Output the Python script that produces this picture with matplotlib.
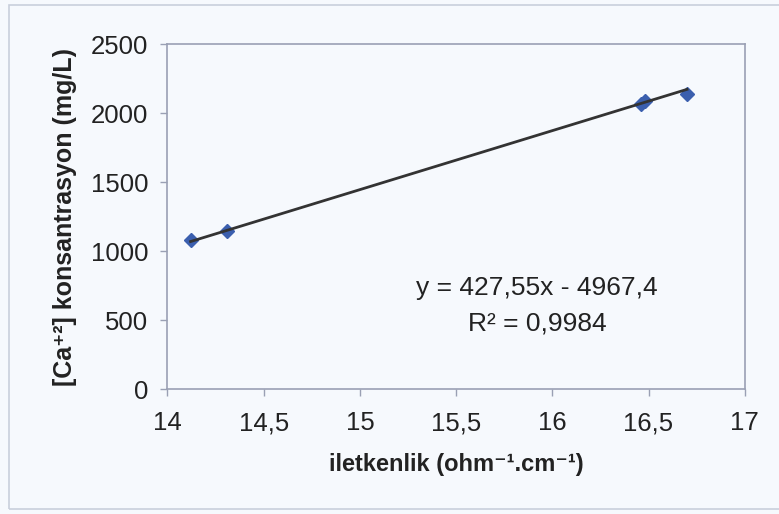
import matplotlib
matplotlib.use('Agg')
import matplotlib.pyplot as plt
from matplotlib.ticker import FuncFormatter
import numpy as np

plt.rcParams['font.family'] = ['Liberation Sans', 'DejaVu Sans']

# iletkenlik / Ca+2 olcumleri
iletkenlik = [14.12, 14.31, 16.46, 16.48, 16.70]
ca_konsantrasyon = [1082, 1146, 2065, 2088, 2140]

# Excel trend cizgisi katsayilari
egim = 427.55
kesisim = -4967.4
r2 = 0.9984

x_ticks = [14, 14.5, 15, 15.5, 16, 16.5, 17]
y_ticks = [0, 500, 1000, 1500, 2000, 2500]

bg = '#f6f9fd'
axis_col = '#9aa0b4'
txt = '#222222'

fig = plt.figure(figsize=(7.79, 5.14), dpi=100, facecolor=bg)
ax = fig.add_axes([0.215, 0.243, 0.741, 0.671], facecolor=bg)

# trend cizgisi
xt = np.array([min(iletkenlik), max(iletkenlik)])
ax.plot(xt, egim * xt + kesisim, color='#333333', lw=2, zorder=3)
ax.plot(iletkenlik, ca_konsantrasyon, 'D', color='#3b5fae', ms=7.5,
        markeredgecolor='#3b5fae', zorder=2)

ax.set_xlim(14, 17)
ax.set_ylim(0, 2500)
ax.set_xticks(x_ticks)
ax.set_yticks(y_ticks)
virgul = FuncFormatter(lambda v, p: ('%g' % v).replace('.', ','))
ax.xaxis.set_major_formatter(virgul)
ax.tick_params(direction='out', length=5, width=1, color=axis_col,
               labelsize=18.5, labelcolor=txt)
ax.tick_params(axis='x', pad=11)
ax.tick_params(axis='y', pad=9)
for s in ax.spines.values():
    s.set_color(axis_col)
    s.set_linewidth(1.2)

ax.set_xlabel('iletkenlik (ohm\u207b\u00b9.cm\u207b\u00b9)',
              fontsize=17, fontweight='bold', labelpad=13, color=txt)
ax.set_ylabel('[Ca\u207a\u00b2] konsantrasyon (mg/L)',
              fontsize=18, fontweight='bold', labelpad=10, color=txt)

ax.text(15.92, 732,
        'y = %sx - %s' % (('%.2f' % egim).replace('.', ','),
                          ('%.1f' % -kesisim).replace('.', ',')),
        ha='center', va='center', fontsize=19, color=txt)
ax.text(15.92, 478, 'R\u00b2 = ' + ('%.4f' % r2).replace('.', ','),
        ha='center', va='center', fontsize=19, color=txt)

# dis cerceve
fig.patches.append(plt.Rectangle((9 / 779, 5 / 514), 1.2, 1 - 10 / 514,
                                 transform=fig.transFigure, fill=False,
                                 edgecolor='#c9cfdc', lw=1.2))

fig.savefig('out.png', dpi=100, facecolor=bg)
